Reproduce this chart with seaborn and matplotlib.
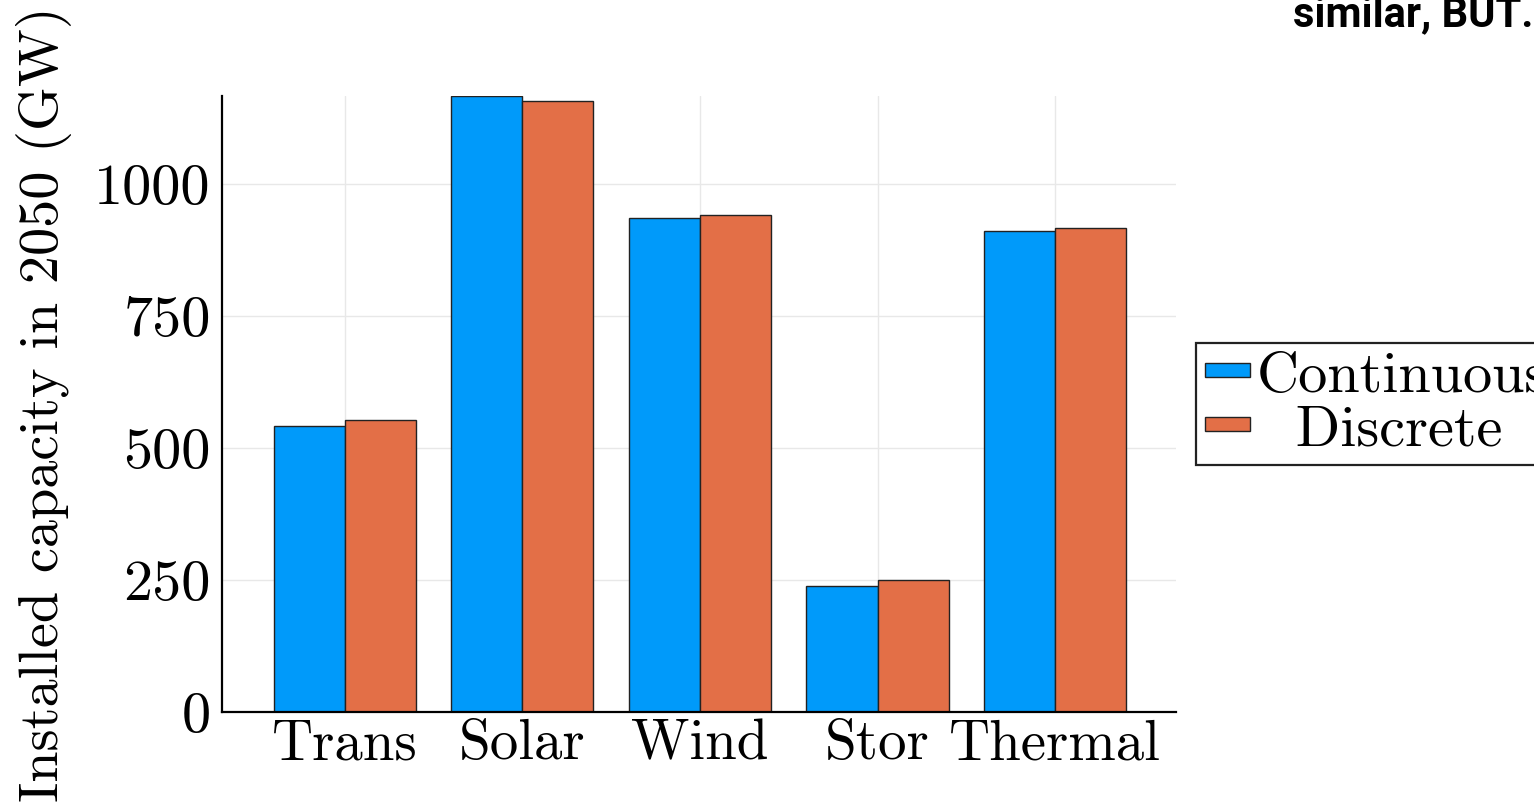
import matplotlib
matplotlib.use("Agg")
import matplotlib.pyplot as plt
from matplotlib.patches import Patch
import seaborn as sns
import pandas as pd

# Installed capacity by technology in 2050 (GW)
technologies = ["Trans", "Solar", "Wind", "Stor", "Thermal"]
continuous = [542, 1167, 935, 238, 911]
discrete = [553, 1157, 941, 250, 917]
series_names = ["Continuous", "Discrete"]
y_ticks = [0, 250, 500, 750, 1000]

BLUE = "#009AFA"
ORANGE = "#E36F47"

sns.set_theme(style="white")
plt.rcParams["font.family"] = ["cmr10", "DejaVu Serif"]
plt.rcParams["axes.formatter.use_mathtext"] = True

df = pd.DataFrame({
    "tech": technologies * 2,
    "cap": continuous + discrete,
    "model": [series_names[0]] * len(technologies) + [series_names[1]] * len(technologies),
})

W, H = 1534, 805
fig = plt.figure(figsize=(W / 100, H / 100), dpi=100)
ax = fig.add_axes([222 / W, (H - 712) / H, (1176 - 222) / W, (712 - 96) / H])

sns.barplot(data=df, x="tech", y="cap", hue="model", order=technologies,
            hue_order=series_names, palette=[BLUE, ORANGE], saturation=1,
            width=0.8, edgecolor="#222222", linewidth=1.0, legend=False,
            ax=ax, zorder=3)

ax.set_xlim(-0.69, 4.68)
ax.set_ylim(0, max(continuous + discrete))
ax.set_yticks(y_ticks)
ax.set_yticklabels([str(t) for t in y_ticks])
ax.set_xticks(range(len(technologies)))
ax.set_xticklabels(technologies)

ax.grid(True, color="#e8e8e8", linewidth=1.0, zorder=0)
ax.set_axisbelow(True)
for side in ("top", "right"):
    ax.spines[side].set_visible(False)
for side in ("left", "bottom"):
    ax.spines[side].set_color("black")
    ax.spines[side].set_linewidth(1.6)
    ax.spines[side].set_zorder(4)

ax.tick_params(axis="y", direction="in", length=7, width=1.2, color="black",
               labelsize=42, pad=8, labelcolor="black")
ax.tick_params(axis="x", length=0, labelsize=41, pad=5, labelcolor="black")

ax.set_xlabel("")
ax.set_ylabel("Installed capacity in 2050 (GW)", fontsize=40.5, color="black", labelpad=16)

handles = [Patch(facecolor=BLUE, edgecolor="#222222", linewidth=1.0),
           Patch(facecolor=ORANGE, edgecolor="#222222", linewidth=1.0)]
leg = fig.legend(handles, [series_names[0], "  " + series_names[1]],
                 loc="center left", bbox_to_anchor=(1196 / W, 1 - 404 / H),
                 fontsize=42, frameon=True, fancybox=False, shadow=False,
                 framealpha=1, edgecolor="#222222", borderpad=0.15,
                 handlelength=0.78, handleheight=0.0, handletextpad=0.12,
                 labelspacing=0.05, borderaxespad=0)
leg.get_frame().set_linewidth(1.6)
for t in leg.get_texts():
    t.set_color("black")

fig.text(1533 / W, 1 - 26 / H, "similar, BUT.", ha="right", va="baseline",
         fontsize=30, fontweight="bold", family="Roboto", color="black")

fig.savefig("out.png", dpi=100)
